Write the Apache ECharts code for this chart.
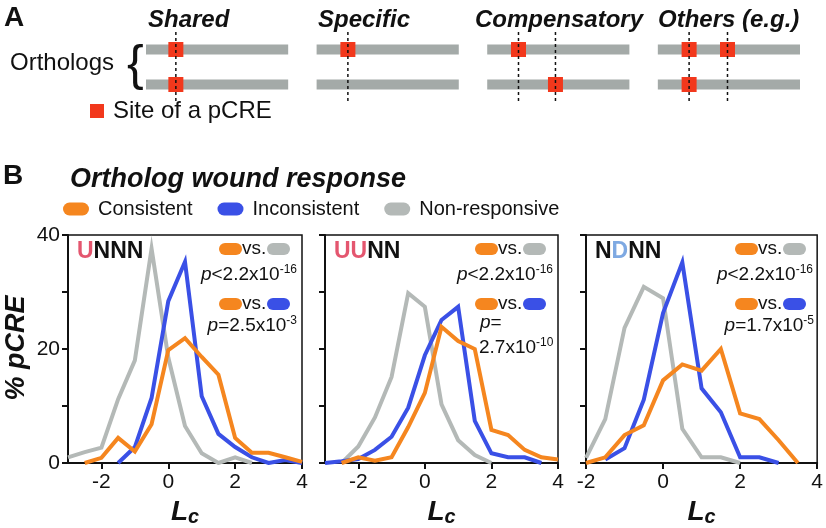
<!DOCTYPE html>
<html>
<head>
<meta charset="utf-8">
<script src="https://cdn.jsdelivr.net/npm/echarts@6/dist/echarts.min.js"></script>
<style>
  html, body { margin: 0; padding: 0; background: #fff; }
  #chart { width: 826px; height: 528px; }
</style>
</head>
<body>
<div id="chart"></div>
<script>
// ---- panel A schematic (track units: each ortholog track is 1 long) ----
const schemeGroups = ['Shared', 'Specific', 'Compensatory', 'Others (e.g.)'];
const schemeRows = ['bottom', 'top'];
const trackStart = [0, 1.2, 2.4, 3.6];
const siteTopX = [0.21, 1.42, 2.62, 3.82, 4.09];
const siteBottomX = [0.21, 2.88, 3.82];
const dashX = [0.21, 1.42, 2.62, 2.88, 3.82, 4.09];

// ---- panel B: % pCRE by Lc bin ----
const lcWide = [-3, -2.5, -2, -1.5, -1, -0.5, 0, 0.5, 1, 1.5, 2, 2.5, 3, 3.5, 4];
const lcNarrow = [-2, -1.5, -1, -0.5, 0, 0.5, 1, 1.5, 2, 2.5, 3, 3.5, 4];

const consUNNN   = [null, 0, 0.9, 4.4, 2.0, 6.8, 19.8, 21.9, 18.6, 15.5, 4.4, 1.8, 1.8, 1.0, 0.2];
const inconsUNNN = [null, null, null, 0, 2.8, 11.4, 28.4, 35.3, 11.7, 5.1, 2.8, 1.0, 0, 0.5, 0];
const nonUNNN    = [1.0, 1.9, 2.7, 11.2, 18.0, 37.6, 18.5, 6.5, 1.7, 0, 1.0, 0, null, null, null];

const consUUNN   = [null, 0, 1.0, 0.4, 1.0, 6.3, 12.3, 23.9, 21.4, 20.0, 5.8, 4.9, 2.3, 1.0, 0.6];
const inconsUUNN = [0, 0.3, 0.7, 2.3, 4.6, 9.7, 18.9, 25.1, 27.4, 7.4, 1.7, 1.0, 1.0, 0, null];
const nonUUNN    = [null, 0, 2.9, 8.0, 15.1, 29.8, 27.4, 10.3, 4.0, 1.4, 0, null, null, null, null];

const consNDNN   = [0, 1.0, 4.9, 6.6, 14.5, 17.3, 16.2, 20.0, 8.7, 7.7, 4.0, 0, null];
const inconsNDNN = [null, 0.6, 2.6, 11.1, 26.3, 35.2, 13.1, 8.9, 1.0, 1.0, 0, null, null];
const nonNDNN    = [0.9, 7.7, 23.7, 30.9, 28.9, 6.0, 1.0, 1.0, 0, null, null, null, null];

const xTickLabels = [-2, 0, 2, 4];
const yTickLabels = [0, 20, 40];

const FONT = "'Liberation Sans', Arial, Helvetica, sans-serif";
const INK = '#111';
const ORANGE = '#f5861f';
const BLUE = '#3a50e6';
const GRAY = '#b4b9b7';
const RED = '#f2381c';
const PINK = '#e4566f';
const LIGHTBLUE = '#7ea9e2';

const pairs = (xs, ys) => xs.map((x, i) => [x, ys[i]]).filter(p => p[1] !== null);

const panels = [
  { xs: lcWide, min: -3, cons: consUNNN, incons: inconsUNNN, non: nonUNNN, grid: { left: 68, width: 234 } },
  { xs: lcWide, min: -3, cons: consUUNN, incons: inconsUUNN, non: nonUUNN, grid: { left: 325, width: 233 } },
  { xs: lcNarrow, min: -2, cons: consNDNN, incons: inconsNDNN, non: nonNDNN, grid: { left: 586, width: 232 } }
];

const grids = panels.map(p => ({
  left: p.grid.left, width: p.grid.width, top: 235, height: 233,
  show: true, borderColor: INK, borderWidth: 1.5, backgroundColor: 'transparent'
}));
grids.push({ left: 146, width: 654, top: 32, height: 70 });

const xAxes = panels.map((p, i) => ({
  type: 'value', gridIndex: i, min: p.min, max: 4,
  axisLine: { show: true, onZero: false, lineStyle: { color: INK, width: 2 } },
  axisTick: { show: true, length: 6, lineStyle: { color: INK, width: 2 }, customValues: xTickLabels },
  axisLabel: { customValues: xTickLabels, fontSize: 21, color: INK, margin: 9, fontFamily: FONT },
  splitLine: { show: false },
  name: '{l|L}{c|c}', nameLocation: 'middle', nameGap: 34,
  nameTextStyle: {
    rich: {
      l: { fontSize: 28, fontWeight: 'bold', fontStyle: 'italic', color: INK, fontFamily: FONT },
      c: { fontSize: 20, fontWeight: 'bold', fontStyle: 'italic', color: INK, fontFamily: FONT, padding: [10, 0, 0, 0] }
    }
  }
}));
xAxes.push({ type: 'value', gridIndex: 3, min: 0, max: 4.6, show: false });

const yAxes = panels.map((p, i) => ({
  type: 'value', gridIndex: i, min: 0, max: 40, interval: 10,
  axisLine: { show: true, onZero: false, lineStyle: { color: INK, width: 2 } },
  axisTick: { show: true, length: 6, lineStyle: { color: INK, width: 2 } },
  axisLabel: i === 0
    ? { customValues: yTickLabels, fontSize: 21, color: INK, margin: 8, fontFamily: FONT }
    : { show: false },
  splitLine: { show: false }
}));
yAxes.push({ type: 'category', gridIndex: 3, data: schemeRows, show: false });

const series = [];
panels.forEach((p, i) => {
  [['Non-responsive', p.non, GRAY], ['Inconsistent', p.incons, BLUE], ['Consistent', p.cons, ORANGE]]
    .forEach(([name, ys, color]) => {
      series.push({
        name, type: 'line', xAxisIndex: i, yAxisIndex: i,
        data: pairs(p.xs, ys), symbol: 'none', color,
        lineStyle: { color, width: 4, join: 'miter' }
      });
    });
});

// schematic tracks, sites and alignment guides
series.push({
  type: 'custom', xAxisIndex: 3, yAxisIndex: 3, z: 1,
  data: trackStart.flatMap(s => [[s, s + 1, 0], [s, s + 1, 1]]),
  encode: { x: [0, 1], y: 2 },
  renderItem: (params, api) => {
    const a = api.coord([api.value(0), api.value(2)]);
    const b = api.coord([api.value(1), api.value(2)]);
    return { type: 'rect', shape: { x: a[0], y: a[1] - 5, width: b[0] - a[0], height: 10 }, style: { fill: '#a4aaa8' } };
  }
});
series.push({
  type: 'scatter', xAxisIndex: 3, yAxisIndex: 3, z: 2, symbol: 'rect', symbolSize: 15,
  itemStyle: { color: RED, opacity: 1 },
  data: siteTopX.map(x => [x, 1]).concat(siteBottomX.map(x => [x, 0]))
});
series.push({
  type: 'custom', xAxisIndex: 3, yAxisIndex: 3, z: 3,
  data: dashX.map(x => [x, 0]),
  encode: { x: 0, y: 1 },
  renderItem: (params, api) => {
    const p = api.coord([api.value(0), 0]);
    const cs = params.coordSys;
    return { type: 'line', shape: { x1: p[0], y1: cs.y, x2: p[0], y2: cs.y + cs.height },
      style: { stroke: INK, lineWidth: 1.5, lineDash: [3, 3] } };
  }
});

// ---- text and annotation helpers ----
function txt(x, y, text, opts) {
  const o = Object.assign({ size: 20, weight: 'normal', style: 'normal', align: 'left', rich: null, rotation: 0 }, opts || {});
  const st = {
    text, fill: INK, fontSize: o.size, fontWeight: o.weight, fontStyle: o.style, fontFamily: FONT,
    align: o.align, verticalAlign: 'middle', textAlign: o.align, textVerticalAlign: 'middle'
  };
  if (o.rich) st.rich = o.rich;
  return { type: 'text', x, y, rotation: o.rotation, style: st, z: 10 };
}
function pill(x, y, color) {
  return { type: 'rect', shape: { x, y: y - 6, width: 23, height: 12, r: 6 }, style: { fill: color }, z: 10 };
}
const pRich = {
  i: { fontSize: 19, fontStyle: 'italic', fontFamily: FONT, fill: INK, lineHeight: 22 },
  n: { fontSize: 19, fontFamily: FONT, fill: INK, lineHeight: 22 },
  s: { fontSize: 12, fontFamily: FONT, fill: INK, lineHeight: 12, verticalAlign: 'top' }
};
const tagRich = {
  u: { fontSize: 23, fontWeight: 'bold', fontFamily: FONT, fill: PINK },
  d: { fontSize: 23, fontWeight: 'bold', fontFamily: FONT, fill: LIGHTBLUE },
  n: { fontSize: 23, fontWeight: 'bold', fontFamily: FONT, fill: INK }
};
function vsRow(R, y, other) {
  return [pill(R - 83, y, ORANGE), txt(R - 60, y, 'vs.', { size: 19 }), pill(R - 35, y, other)];
}

const panelTags = ['{u|U}{n|NNN}', '{u|UU}{n|NN}', '{n|N}{d|D}{n|NN}'];
const graphics = [
  txt(4, 18, 'A', { size: 28, weight: 'bold' }),
  txt(148, 20, schemeGroups[0], { size: 24, weight: 'bold', style: 'italic' }),
  txt(318, 20, schemeGroups[1], { size: 24, weight: 'bold', style: 'italic' }),
  txt(475, 20, schemeGroups[2], { size: 24, weight: 'bold', style: 'italic' }),
  txt(658, 20, schemeGroups[3], { size: 24, weight: 'bold', style: 'italic' }),
  txt(10, 63, 'Orthologs', { size: 24 }),
  txt(127, 66, '{', { size: 50 }),
  { type: 'rect', shape: { x: 90, y: 104, width: 14, height: 14 }, style: { fill: RED }, z: 10 },
  txt(113, 111, 'Site of a pCRE', { size: 24 }),
  txt(3, 176, 'B', { size: 28, weight: 'bold' }),
  txt(70, 180, 'Ortholog wound response', { size: 27, weight: 'bold', style: 'italic' }),
  txt(17, 348, '% pCRE', { size: 27, weight: 'bold', style: 'italic', align: 'center', rotation: Math.PI / 2 })
];
panels.forEach((p, i) => {
  const L = p.grid.left, R = p.grid.left + p.grid.width;
  graphics.push(txt(L + 9, 252, panelTags[i], { rich: tagRich, size: 23 }));
  graphics.push(...vsRow(R, 249, GRAY));
  graphics.push(txt(R - 5, 275, '{i|p}{n|<2.2x10}{s|-16}', { rich: pRich, align: 'right', size: 19 }));
  graphics.push(...vsRow(R, 304, BLUE));
});
graphics.push(txt(297, 326, '{i|p}{n|=2.5x10}{s|-3}', { rich: pRich, align: 'right', size: 19 }));
graphics.push(txt(480, 323, '{i|p}{n|=}', { rich: pRich, size: 19 }));
graphics.push(txt(479, 348, '{n|2.7x10}{s|-10}', { rich: pRich, size: 19 }));
graphics.push(txt(814, 326, '{i|p}{n|=1.7x10}{s|-5}', { rich: pRich, align: 'right', size: 19 }));

const chart = echarts.init(document.getElementById('chart'));
chart.setOption({
  animation: false,
  backgroundColor: '#fff',
  textStyle: { fontFamily: FONT },
  legend: {
    data: ['Consistent', 'Inconsistent', 'Non-responsive'],
    left: 63, top: 199, padding: 0,
    itemWidth: 26, itemHeight: 13, itemGap: 25,
    icon: 'path://M6.5,0 L19.5,0 A6.5,6.5 0 0 1 19.5,13 L6.5,13 A6.5,6.5 0 0 1 6.5,0 Z',
    textStyle: { fontSize: 20, color: INK, fontFamily: FONT, padding: [0, 0, 0, 4] }
  },
  grid: grids,
  xAxis: xAxes,
  yAxis: yAxes,
  series,
  graphic: graphics
});
</script>
</body>
</html>
